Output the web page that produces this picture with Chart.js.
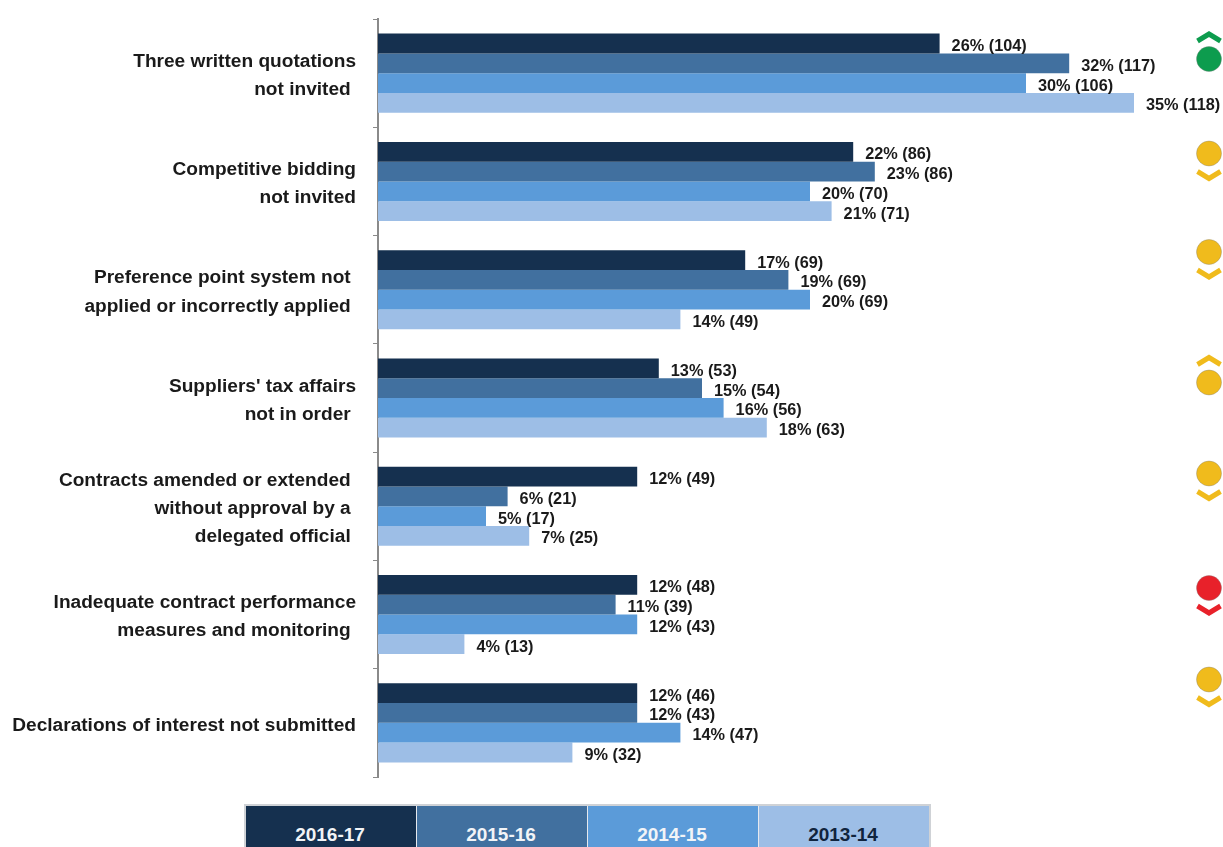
<!DOCTYPE html>
<html>
<head>
<meta charset="utf-8">
<title>Procurement findings</title>
<script src="https://cdn.jsdelivr.net/npm/chart.js@4"></script>
<style>
  html, body { margin: 0; padding: 0; background: #fff; overflow: hidden; }
  #wrap { position: relative; width: 1223px; height: 847px; }
  #grafico { position: absolute; left: 0; top: 0; }
  .leyenda {
    position: absolute; left: 244px; top: 804px; width: 687px; height: 43px;
    box-sizing: border-box; border: 2px solid #cfd2d6; border-bottom: 0;
    display: flex; background: #fff;
    font: bold 19px "Liberation Sans", Arial, sans-serif;
  }
  .leyenda div { flex: 1; text-align: center; line-height: 57px; border-left: 1px solid #e6e9ee; color: #f2f4f7; padding-right: 2px; box-sizing: border-box; }
  .leyenda div:first-child { border-left: 0; }
</style>
</head>
<body>
<div id="wrap">
  <canvas id="grafico" width="1223" height="847"></canvas>
  <div class="leyenda" id="leyenda"></div>
</div>
<script>
// Findings, one row per group of bars. Trailing spaces nudge a line off the right edge
const categorias = [
  ['Three written quotations', 'not invited '],
  ['Competitive bidding', 'not invited'],
  ['Preference point system not ', 'applied or incorrectly applied '],
  ["Suppliers' tax affairs", 'not in order '],
  ['Contracts amended or extended ', 'without approval by a ', 'delegated official '],
  ['Inadequate contract performance', 'measures and monitoring '],
  ['Declarations of interest not submitted']
];

const periodos = ['2016-17', '2015-16', '2014-15', '2013-14'];

// Percentage of audits with the finding
const pct1617 = [26, 22, 17, 13, 12, 12, 12];
const pct1516 = [32, 23, 19, 15, 6, 11, 12];
const pct1415 = [30, 20, 20, 16, 5, 12, 14];
const pct1314 = [35, 21, 14, 18, 7, 4, 9];

// Number of audits, shown in brackets next to the percentage
const num1617 = [104, 86, 69, 53, 49, 48, 46];
const num1516 = [117, 86, 69, 54, 21, 39, 43];
const num1415 = [106, 70, 69, 56, 17, 43, 47];
const num1314 = [118, 71, 49, 63, 25, 13, 32];

// Status dot and movement arrow at the far right of each row
const estados = ['verde', 'amarillo', 'amarillo', 'amarillo', 'amarillo', 'rojo', 'amarillo'];
const flechas = ['arriba', 'abajo', 'abajo', 'arriba', 'abajo', 'abajo', 'abajo'];

const colores = ['#15304f', '#41709f', '#5b9bd9', '#9dbee6'];
const coloresEstado = { verde: '#0d9c4e', amarillo: '#f0bb1c', rojo: '#e8212a' };
const altoIcono = [59, 153.5, 252, 382.5, 473.5, 588, 679.5];

const porcentajes = [pct1617, pct1516, pct1415, pct1314];
const cantidades = [num1617, num1516, num1415, num1314];

// "26% (104)" at the end of every bar
const etiquetasBarras = {
  id: 'etiquetasBarras',
  afterDatasetsDraw(chart) {
    const ctx = chart.ctx;
    ctx.save();
    ctx.font = 'bold 16.3px "Liberation Sans", Arial, sans-serif';
    ctx.fillStyle = '#1a1a1a';
    ctx.textBaseline = 'middle';
    chart.data.datasets.forEach((ds, i) => {
      chart.getDatasetMeta(i).data.forEach((barra, j) => {
        ctx.fillText(ds.data[j] + '% (' + cantidades[i][j] + ')', barra.x + 12, barra.y + 3);
      });
    });
    ctx.restore();
  }
};

// Dots and chevrons in the right margin
const iconos = {
  id: 'iconos',
  afterDraw(chart) {
    const ctx = chart.ctx;
    const x = 1209;
    ctx.save();
    estados.forEach((estado, i) => {
      const y = altoIcono[i];
      ctx.fillStyle = coloresEstado[estado];
      ctx.beginPath();
      ctx.arc(x, y, 12.5, 0, Math.PI * 2);
      ctx.fill();
      ctx.strokeStyle = 'rgba(120,120,120,0.35)';
      ctx.lineWidth = 1;
      ctx.stroke();

      const sentido = flechas[i] === 'arriba' ? -1 : 1;
      ctx.strokeStyle = coloresEstado[estado];
      ctx.lineWidth = 5;
      ctx.beginPath();
      ctx.moveTo(x - 11.5, y + sentido * 18);
      ctx.lineTo(x, y + sentido * 25);
      ctx.lineTo(x + 11.5, y + sentido * 18);
      ctx.stroke();
    });
    ctx.restore();
  }
};

new Chart(document.getElementById('grafico'), {
  type: 'bar',
  data: {
    labels: categorias,
    datasets: periodos.map((p, i) => ({
      label: p,
      data: porcentajes[i],
      backgroundColor: colores[i],
      categoryPercentage: 0.73,
      barPercentage: 1
    }))
  },
  options: {
    indexAxis: 'y',
    responsive: false,
    animation: false,
    layout: { padding: { top: 19, bottom: 70, right: 24.2, left: 0 } },
    plugins: { legend: { display: false }, tooltip: { enabled: false } },
    scales: {
      x: { display: false, min: 0, max: 38 },
      y: {
        afterFit(escala) {
          escala.width = 378;
          escala.paddingTop = 0;
          escala.paddingBottom = 0;
        },
        border: { color: '#8a8a8a', width: 2 },
        grid: { drawOnChartArea: false, tickLength: 5, tickColor: '#8a8a8a', tickWidth: 1 },
        ticks: {
          color: '#1a1a1a',
          padding: 17,
          labelOffset: 2.5,
          autoSkip: false,
          font: { family: '"Liberation Sans", Arial, sans-serif', weight: 'bold', size: 19.1, lineHeight: 1.47 }
        }
      }
    }
  },
  plugins: [etiquetasBarras, iconos]
});

// Legend strip under the chart
const leyenda = document.getElementById('leyenda');
periodos.forEach((p, i) => {
  const celda = document.createElement('div');
  celda.textContent = p;
  celda.style.background = colores[i];
  if (i === 3) celda.style.color = '#10243d';
  leyenda.appendChild(celda);
});
</script>
</body>
</html>
